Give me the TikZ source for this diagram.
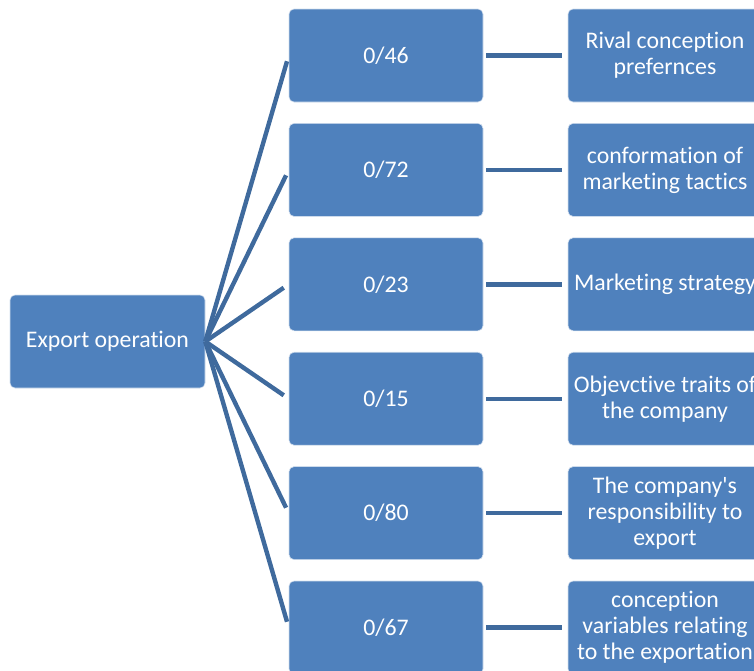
\documentclass[tikz,border=0pt]{standalone}
\usepackage{fontspec}
\setmainfont[Ligatures={NoCommon}]{Carlito}
\usetikzlibrary{positioning}
\definecolor{boxblue}{RGB}{79,129,189}
\definecolor{linkblue}{RGB}{63,106,157}

\begin{document}
\begin{tikzpicture}[x=1pt,y=1pt,node distance=114.4pt,on grid,
	box/.style={rectangle,rounded corners=5pt,fill=boxblue,draw=white!75!boxblue,line width=0.6pt,
		minimum width=194pt,minimum height=93pt,text=white,align=center,
		font=\fontsize{23.8}{26}\selectfont},
	link/.style={draw=linkblue,line width=4.4pt}]
			\useasboundingbox (0,0) rectangle (754,-670);
			\clip (0,0) rectangle (754,-670);
			% root on the left
			\node[box,minimum width=195pt] (export) at (107.5,-341.5) {Export operation};
			% middle column of values
			\node[box] (v1) at (386,-55.5) {0/46};
			\node[box] (v2) [below=of v1] {0/72};
			\node[box] (v3) [below=of v2] {0/23};
			\node[box] (v4) [below=of v3] {0/15};
			\node[box] (v5) [below=of v4] {0/80};
			\node[box] (v6) [below=of v5] {0/67};
			% right column of factors
			\begin{scope}[node distance=279pt]
			\node[box] (f1) [right=of v1] {Rival conception\\prefernces};
			\node[box] (f2) [right=of v2] {conformation of\\marketing tactics};
			\node[box] (f3) [right=of v3] {Marketing strategy};
			\node[box] (f4) [right=of v4] {Objevctive traits of\\the company};
			\node[box] (f5) [right=of v5] {The company\textquotesingle s\\responsibility to\\export};
			\node[box] (f6) [right=of v6] {conception\\variables relating\\to the exportation};
			\end{scope}
			\foreach \i in {1,...,6}{
				\draw[link,shorten >=6pt] (export.east) -- (v\i.west);
				\draw[link,shorten <=3pt,shorten >=6pt] (v\i.east) -- (f\i.west);
			}
		\end{tikzpicture}
\end{document}
